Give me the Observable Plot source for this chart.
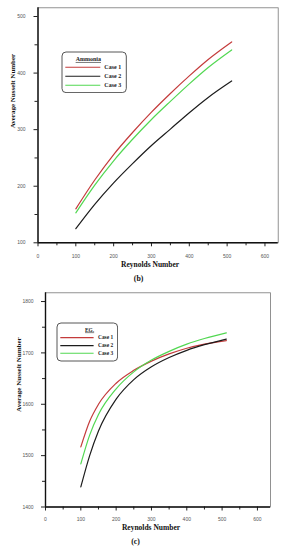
<!DOCTYPE html>
<html><head><meta charset="utf-8">
<script src="https://cdn.jsdelivr.net/npm/d3@7"></script>
<script src="https://cdn.jsdelivr.net/npm/@observablehq/plot@0.6"></script>
<style>
body{margin:0;background:#fff;width:289px;height:550px;overflow:hidden;}
#wrap{position:relative;width:289px;height:550px;}
.panel{position:absolute;left:0;}
</style></head><body><div id="wrap"></div>
<script>
// ---- data ----
const caseNames = ["Case 1", "Case 2", "Case 3"];
const caseColors = ["#c43b3b", "#1c1c1c", "#52d852"];

// Panel (b) Ammonia
const ammoniaRe = [100, 150, 200, 250, 300, 350, 400, 450, 512];
const ammoniaCase1 = [160, 211, 256, 295, 331, 364, 395, 424, 455];
const ammoniaCase2 = [125, 168, 206, 240, 272, 301, 330, 357, 386];
const ammoniaCase3 = [153, 202, 245, 283, 318, 350, 381, 410, 441];

// Panel (c) EG
const egRe = [100, 125, 150, 200, 250, 300, 350, 400, 450, 512];
const egCase1 = [1517, 1567, 1600, 1641, 1666, 1684, 1698, 1709, 1717, 1724];
const egCase2 = [1439, 1500, 1548, 1610, 1648, 1673, 1691, 1705, 1716, 1727];
const egCase3 = [1484, 1540, 1580, 1630, 1663, 1686, 1703, 1717, 1728, 1739];

// ticks
const xTicks = [0, 100, 200, 300, 400, 500, 600];
const xMinorTicks = [50, 150, 250, 350, 450, 550];
const ammoniaYTicks = [100, 200, 300, 400, 500];
const ammoniaYMinor = [150, 250, 350, 450];
const egYTicks = [1400, 1500, 1600, 1700, 1800];
const egYMinor = [1450, 1550, 1650, 1750];

const ammoniaTitle = "Ammonia";
const egTitle = "EG.";
const xLabel = "Reynolds Number";
const yLabel = "Average Nusselt Number";

// ---- helpers ----
function toRows(re, series) {
  const rows = [];
  series.forEach((vals, i) => vals.forEach((v, j) => rows.push({re: re[j], nu: v, series: caseNames[i]})));
  return rows;
}

const serif = "'Liberation Serif', 'Times New Roman', serif";
const sans = "'Liberation Sans', Arial, sans-serif";
const fmt = d3.format("d");

function panel(o) {
  const rows = toRows(o.re, o.series);
  return Plot.plot({
    width: 289,
    height: o.height,
    marginLeft: o.ml, marginRight: o.mr, marginTop: o.mt, marginBottom: o.mb,
    x: {domain: o.xDomain},
    y: {domain: o.yDomain},
    color: {domain: caseNames, range: caseColors},
    style: {background: "transparent", overflow: "visible"},
    marks: [
      Plot.frame({stroke: "#777", strokeWidth: 0.8}),
      Plot.axisX(xTicks, {tickSize: 4, tickPadding: o.xPad, tickFormat: fmt, fontSize: 5, fontFamily: sans, fill: "#555", stroke: "#222", label: null}),
      Plot.axisX(xMinorTicks, {tickSize: 3, tickFormat: () => "", stroke: "#222", label: null}),
      Plot.axisY(o.yTicks, {tickSize: 4, tickPadding: o.yPad, tickFormat: fmt, fontSize: 5, fontFamily: sans, fill: "#555", stroke: "#222", label: null}),
      Plot.axisY(o.yMinor, {tickSize: 3, tickFormat: () => "", stroke: "#222", label: null}),
      Plot.ruleX([o.xDomain[0]], {stroke: "#111", strokeWidth: 1.4}),
      Plot.ruleY([o.yDomain[0]], {stroke: "#111", strokeWidth: 1.4}),
      Plot.line(rows, {x: "re", y: "nu", z: "series", stroke: "series", curve: "monotone-x", strokeWidth: 1.2}),
      Plot.text([xLabel], {text: d => d, frameAnchor: "bottom", lineAnchor: "middle", dy: o.xLabDy, dx: o.xLabDx,
        fontFamily: serif, fontWeight: "bold", fontSize: 7.5, fill: "#111"}),
      Plot.text([o.tag], {text: d => d, frameAnchor: "bottom", lineAnchor: "middle", dy: o.tagDy, dx: o.tagDx,
        fontFamily: serif, fontWeight: "bold", fontSize: 7.8, fill: "#111"}),
      Plot.text([yLabel], {text: d => d, frameAnchor: "left", lineAnchor: "middle", rotate: -90, dx: o.yLabDx, dy: o.yLabDy,
        fontFamily: serif, fontWeight: "bold", fontSize: 7, fill: "#111"})
    ]
  });
}

function legend(o) {
  const svg = d3.create("svg").attr("width", o.w + 2).attr("height", o.h + 2)
    .style("position", "absolute").style("left", (o.left - 1) + "px").style("top", (o.top - 1) + "px");
  svg.append("rect").attr("x", 1).attr("y", 1).attr("width", o.w).attr("height", o.h)
    .attr("rx", 4).attr("fill", "#fff").attr("stroke", "#444").attr("stroke-width", 0.9);
  svg.append("text").attr("x", 1 + o.titleX).attr("y", 1 + o.titleY).attr("text-anchor", "middle")
    .attr("dominant-baseline", "middle").attr("font-family", serif).attr("font-weight", "bold")
    .attr("font-size", o.fs).attr("fill", "#222").attr("text-decoration", "underline").text(o.title);
  caseNames.forEach((name, i) => {
    const y = 1 + o.rowY[i];
    svg.append("line").attr("x1", 1 + o.lx1).attr("x2", 1 + o.lx2).attr("y1", y).attr("y2", y)
      .attr("stroke", caseColors[i]).attr("stroke-width", 1.1);
    svg.append("text").attr("x", 1 + o.tx).attr("y", y).attr("dominant-baseline", "middle")
      .attr("font-family", serif).attr("font-weight", "bold").attr("font-size", o.fs).attr("fill", "#222").text(name);
  });
  return svg.node();
}

const wrap = document.getElementById("wrap");

const pb = panel({
  re: ammoniaRe, series: [ammoniaCase1, ammoniaCase2, ammoniaCase3],
  height: 285, ml: 37.5, mr: 11.3, mt: 7.3, mb: 42.7,
  xDomain: [0, 635], yDomain: [100, 515.4],
  yTicks: ammoniaYTicks, yMinor: ammoniaYMinor,
  xPad: 7.5, yPad: 8.5,
  xLabDx: -8, xLabDy: 21.7, tag: "(b)", tagDx: -19.5, tagDy: 35.7,
  yLabDx: -25.5, yLabDy: 3
});
pb.classList.add("panel"); pb.style.top = "0px";
wrap.appendChild(pb);

const pc = panel({
  re: egRe, series: [egCase1, egCase2, egCase3],
  height: 265, ml: 45, mr: 19, mt: 7.3, mb: 43.5,
  xDomain: [0, 637], yDomain: [1400, 1817],
  yTicks: egYTicks, yMinor: egYMinor,
  xPad: 6.3, yPad: 8,
  xLabDx: -7, xLabDy: 20.2, tag: "(c)", tagDx: -22.5, tagDy: 34.2,
  yLabDx: -27, yLabDy: 12
});
pc.classList.add("panel"); pc.style.top = "285px";
wrap.appendChild(pc);

wrap.appendChild(legend({left: 61.7, top: 51.7, w: 64.3, h: 40.6, title: ammoniaTitle, titleX: 26.3, titleY: 7.6,
  rowY: [15.3, 24.3, 33.3], lx1: 3.3, lx2: 38.3, tx: 42.3, fs: 6}));
wrap.appendChild(legend({left: 56.7, top: 322.7, w: 60.6, h: 38, title: egTitle, titleX: 32.6, titleY: 7.3,
  rowY: [14.6, 22.6, 30.3], lx1: 3.3, lx2: 36.6, tx: 41, fs: 5.4}));
</script>
</body></html>
